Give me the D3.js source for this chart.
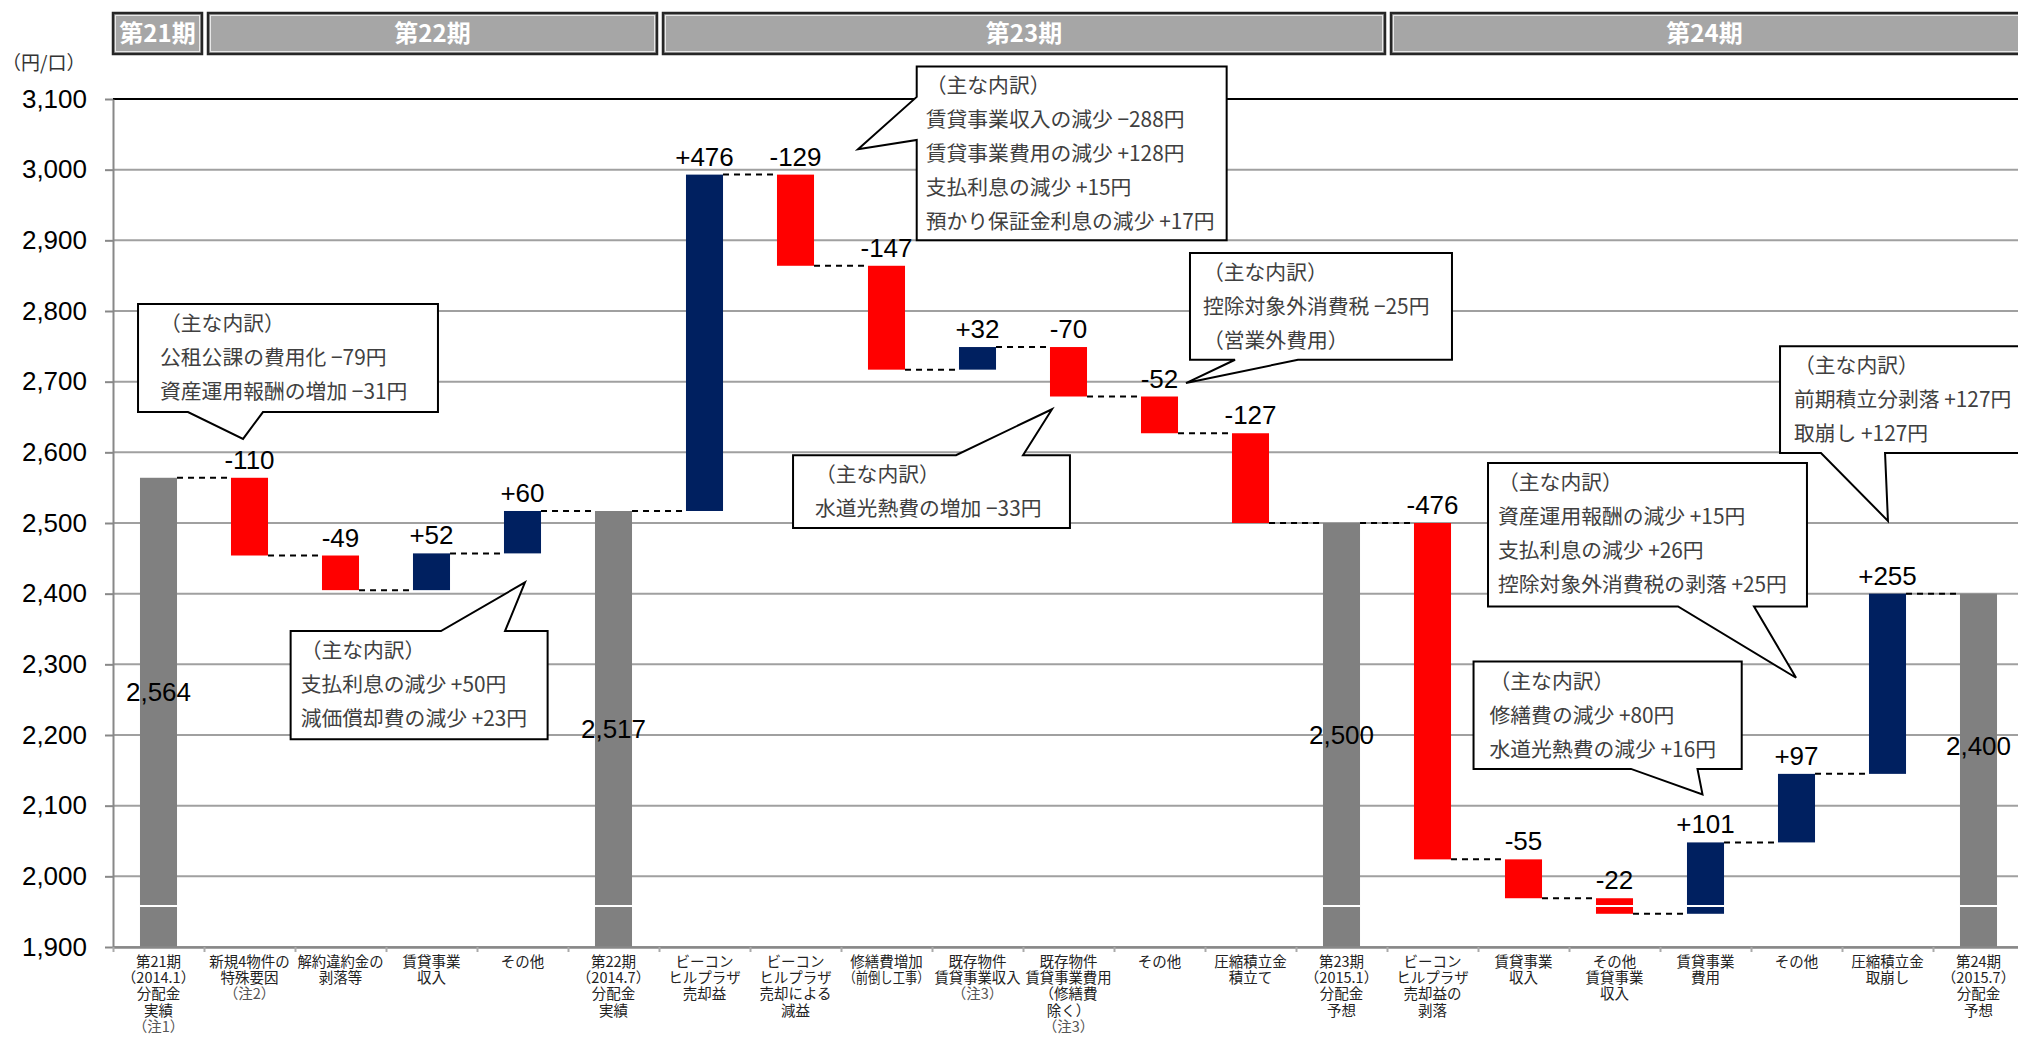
<!DOCTYPE html>
<meta charset="utf-8">
<head>
    <script src="https://d3js.org/d3.v7.min.js"></script>
</head>
<style>
    body { margin: 0; background: #fff; }
    svg { display: block; }
    .num { font-family: 'Liberation Sans', Arial, sans-serif; font-size: 26px; fill: #000; }
    .cat { font-family: 'Noto Sans CJK JP', sans-serif; font-size: 14.5px; fill: #222; text-anchor: middle; }
    .cat .note { fill: #555; }
    .period { font-family: 'Noto Sans CJK JP', sans-serif; font-size: 24px; font-weight: 700; fill: #fff; text-anchor: middle; }
    .callout text { font-family: 'Noto Sans CJK JP', sans-serif; font-size: 20.8px; fill: #404040; }
    .unit { font-family: 'Noto Sans CJK JP', sans-serif; font-size: 19px; fill: #333; }
</style>
<svg width="2018" height="1037"></svg>
<script>
    // ---- data ----
    var categories = [
        "第21期\n（2014.1）\n分配金\n実績\n（注1）",
        "新規4物件の\n特殊要因\n（注2）",
        "解約違約金の\n剥落等",
        "賃貸事業\n収入",
        "その他",
        "第22期\n（2014.7）\n分配金\n実績",
        "ビーコン\nヒルプラザ\n売却益",
        "ビーコン\nヒルプラザ\n売却による\n減益",
        "修繕費増加\n（前倒し工事）",
        "既存物件\n賃貸事業収入\n（注3）",
        "既存物件\n賃貸事業費用\n（修繕費\n除く）\n（注3）",
        "その他",
        "圧縮積立金\n積立て",
        "第23期\n（2015.1）\n分配金\n予想",
        "ビーコン\nヒルプラザ\n売却益の\n剥落",
        "賃貸事業\n収入",
        "その他\n賃貸事業\n収入",
        "賃貸事業\n費用",
        "その他",
        "圧縮積立金\n取崩し",
        "第24期\n（2015.7）\n分配金\n予想"
    ];
    var values = [2564, -110, -49, 52, 60, 2517, 476, -129, -147, 32, -70, -52, -127, 2500, -476, -55, -22, 101, 97, 255, 2400];
    var totalIdx = [0, 5, 13, 20];
    var periods = ["第21期", "第22期", "第23期", "第24期"];
    var periodFirst = [0, 1, 6, 14];
    var periodLast = [0, 5, 13, 20];
    var yTicks = [1900, 2000, 2100, 2200, 2300, 2400, 2500, 2600, 2700, 2800, 2900, 3000, 3100];
    var breakValue = 1958;
    var calloutTexts = [
        ["（主な内訳）", "公租公課の費用化 −79円", "資産運用報酬の増加 −31円"],
        ["（主な内訳）", "支払利息の減少 +50円", "減価償却費の減少 +23円"],
        ["（主な内訳）", "賃貸事業収入の減少 −288円", "賃貸事業費用の減少 +128円", "支払利息の減少 +15円", "預かり保証金利息の減少 +17円"],
        ["（主な内訳）", "水道光熱費の増加 −33円"],
        ["（主な内訳）", "控除対象外消費税 −25円", "（営業外費用）"],
        ["（主な内訳）", "前期積立分剥落 +127円", "取崩し +127円"],
        ["（主な内訳）", "資産運用報酬の減少 +15円", "支払利息の減少 +26円", "控除対象外消費税の剥落 +25円"],
        ["（主な内訳）", "修繕費の減少 +80円", "水道光熱費の減少 +16円"]
    ];

    // ---- layout of the callouts, in band units (x) and yen (y) ----
    var calloutLayout = [
        {x0: 0.275, x1: 3.571, y0: 2810, y1: 2657, side: "bottom", base: [0.824, 1.648], tip: [1.429, 2619], pad: 22},
        {x0: 1.952, x1: 4.776, y0: 2347, y1: 2194, side: "top", base: [3.604, 4.308], tip: [4.527, 2416], pad: 10},
        {x0: 8.832, x1: 12.238, y0: 3146, y1: 2900, side: "left", base: [3103, 3042], tip: [8.187, 3029], pad: 9},
        {x0: 7.473, x1: 10.516, y0: 2596, y1: 2493, side: "top", base: [9.264, 10.0], tip: [10.319, 2661], pad: 22},
        {x0: 11.835, x1: 14.714, y0: 2882, y1: 2731, side: "bottom", base: [12.33, 13.022], tip: [11.791, 2698], pad: 13},
        {x0: 18.319, x1: 21.3, y0: 2750, y1: 2599, side: "bottom", base: [18.769, 19.473], tip: [19.505, 2503], pad: 14},
        {x0: 15.11, x1: 18.615, y0: 2585, y1: 2382, side: "bottom", base: [17.198, 18.033], tip: [18.495, 2281], pad: 10},
        {x0: 14.951, x1: 17.898, y0: 2304, y1: 2152, side: "bottom", base: [16.681, 17.412], tip: [17.467, 2116], pad: 16}
    ];
    // vertical nudge of the total labels, in pixels
    var totalLabelShift = [-20, 0, 0, -24];

    var svg = d3.select("svg"),
        width = +svg.attr("width");

    var plotL = 113, plotR = 2024, plotT = 99, plotB = 947;

    var x = d3.scaleBand()
        .domain(d3.range(categories.length))
        .range([plotL, plotR])
        .paddingInner(0.593)
        .paddingOuter(0.2965);
    var xu = d3.scaleLinear().domain([0, categories.length]).range([plotL, plotR]);
    var y = d3.scaleLinear().domain([1900, 3100]).range([plotB, plotT]);
    var bw = x.bandwidth();

    // running totals
    var bars = [], level = 0;
    values.forEach(function (v, i) {
        var isTotal = totalIdx.indexOf(i) >= 0;
        var s, e;
        if (isTotal) { s = y.domain()[0]; e = v; level = v; }
        else { s = level; e = level + v; level = e; }
        bars.push({i: i, v: v, total: isTotal, start: s, end: e, level: level});
    });

    // grid
    svg.append("g").selectAll("line")
        .data(yTicks)
        .enter().append("line")
        .attr("x1", plotL).attr("x2", width)
        .attr("y1", function (d) { return y(d); })
        .attr("y2", function (d) { return y(d); })
        .attr("stroke", function (d) { return d === 3100 ? "#000" : "#a0a0a0"; })
        .attr("stroke-width", 2);

    // bars
    svg.append("g").selectAll("rect")
        .data(bars)
        .enter().append("rect")
        .attr("x", function (d) { return x(d.i); })
        .attr("width", bw)
        .attr("y", function (d) { return y(Math.max(d.start, d.end)); })
        .attr("height", function (d) { return Math.abs(y(d.start) - y(d.end)); })
        .attr("fill", function (d) { return d.total ? "#808080" : (d.v < 0 ? "#ff0000" : "#002060"); });

    // white break line
    svg.append("g").selectAll("line")
        .data(bars.filter(function (d) { return Math.min(d.start, d.end) <= breakValue && Math.max(d.start, d.end) >= breakValue; }))
        .enter().append("line")
        .attr("x1", function (d) { return x(d.i); })
        .attr("x2", function (d) { return x(d.i) + bw; })
        .attr("y1", y(breakValue)).attr("y2", y(breakValue))
        .attr("stroke", "#fff").attr("stroke-width", 2);

    // connectors
    svg.append("g").selectAll("line")
        .data(bars.slice(0, -1))
        .enter().append("line")
        .attr("x1", function (d) { return x(d.i) + bw; })
        .attr("x2", function (d) { return x(d.i + 1); })
        .attr("y1", function (d) { return y(d.level); })
        .attr("y2", function (d) { return y(d.level); })
        .attr("stroke", "#000").attr("stroke-width", 2)
        .attr("stroke-dasharray", "6,5");

    // axes
    var yAxis = svg.append("g")
        .attr("transform", "translate(" + plotL + ",0)")
        .call(d3.axisLeft(y).tickValues(yTicks).tickFormat(d3.format(",")).tickSize(8).tickSizeOuter(0).tickPadding(18));
    yAxis.selectAll("path, line").attr("stroke", "#888").attr("stroke-width", 2);
    yAxis.selectAll("text").attr("class", "num");
    yAxis.attr("font-size", null).attr("font-family", null);

    var xAxis = svg.append("g")
        .attr("transform", "translate(0," + plotB + ")")
        .call(d3.axisBottom(xu).tickValues(d3.range(0, categories.length + 1)).tickFormat("").tickSize(5).tickSizeOuter(0));
    xAxis.select(".domain").attr("stroke", "#888").attr("stroke-width", 2.5);
    xAxis.selectAll("line").attr("stroke", "#aaa").attr("stroke-width", 2);

    // category labels
    var cat = svg.append("g").attr("class", "cat");
    categories.forEach(function (c, i) {
        var cx = x(i) + bw / 2;
        c.split("\n").forEach(function (line, k) {
            var t = cat.append("text")
                .attr("x", cx)
                .attr("y", 967 + k * 16.2)
                .attr("class", /^（注/.test(line) ? "note" : null)
                .text(line);
            // keep long lines inside their own band
            if (t.node().getComputedTextLength() > 86) {
                t.attr("textLength", 86).attr("lengthAdjust", "spacingAndGlyphs");
            }
        });
    });

    // value labels
    svg.append("g").selectAll("text")
        .data(bars.filter(function (d) { return !d.total; }))
        .enter().append("text")
        .attr("class", "num")
        .attr("text-anchor", "middle")
        .attr("x", function (d) { return x(d.i) + bw / 2; })
        .attr("y", function (d) { return y(Math.max(d.start, d.end)) - 9; })
        .text(function (d) { return (d.v > 0 ? "+" : "") + d.v; });

    svg.append("g").selectAll("text")
        .data(bars.filter(function (d) { return d.total; }))
        .enter().append("text")
        .attr("class", "num")
        .attr("text-anchor", "middle")
        .attr("dominant-baseline", "central")
        .attr("x", function (d) { return x(d.i) + bw / 2; })
        .attr("y", function (d, k) { return (y(d.start) + y(d.end)) / 2 + totalLabelShift[k]; })
        .text(function (d) { return d3.format(",")(d.v); });

    // unit
    svg.append("text").attr("class", "unit").attr("x", 2).attr("y", 70).text("（円/口）");

    // callouts
    function calloutPath(c) {
        var L = xu(c.x0), R = xu(c.x1), T = y(c.y0), B = y(c.y1);
        var tip = [xu(c.tip[0]), y(c.tip[1])], p;
        if (c.side === "bottom") {
            p = [[L, T], [R, T], [R, B], [xu(c.base[1]), B], tip, [xu(c.base[0]), B], [L, B]];
        } else if (c.side === "top") {
            p = [[L, T], [xu(c.base[0]), T], tip, [xu(c.base[1]), T], [R, T], [R, B], [L, B]];
        } else {
            p = [[L, T], [R, T], [R, B], [L, B], [L, y(c.base[1])], tip, [L, y(c.base[0])]];
        }
        return "M" + p.join("L") + "Z";
    }
    var co = svg.append("g").attr("class", "callout")
        .selectAll("g").data(calloutLayout)
        .enter().append("g");
    co.append("path")
        .attr("d", calloutPath)
        .attr("fill", "#fff").attr("stroke", "#000").attr("stroke-width", 2)
        .attr("stroke-linejoin", "miter");
    co.each(function (c, k) {
        var g = d3.select(this);
        calloutTexts[k].forEach(function (line, j) {
            g.append("text")
                .attr("x", xu(c.x0) + c.pad)
                .attr("y", y(c.y0) + 27 + j * 34)
                .text(line);
        });
    });

    // period header
    var ph = svg.append("g");
    periods.forEach(function (p, k) {
        var x0 = xu(periodFirst[k]) + (k === 0 ? 0 : 4), x1 = xu(periodLast[k] + 1) - 2;
        ph.append("rect").attr("x", x0).attr("y", 13).attr("width", x1 - x0).attr("height", 41)
            .attr("fill", "#a6a6a6").attr("stroke", "#262626").attr("stroke-width", 2.5);
        ph.append("rect").attr("x", x0 + 2.5).attr("y", 15.5).attr("width", x1 - x0 - 5).attr("height", 36)
            .attr("fill", "none").attr("stroke", "#e8e8e8").attr("stroke-width", 1);
        ph.append("text").attr("class", "period")
            .attr("x", (x0 + Math.min(x1, width)) / 2).attr("y", 42)
            .text(p);
    });
</script>
